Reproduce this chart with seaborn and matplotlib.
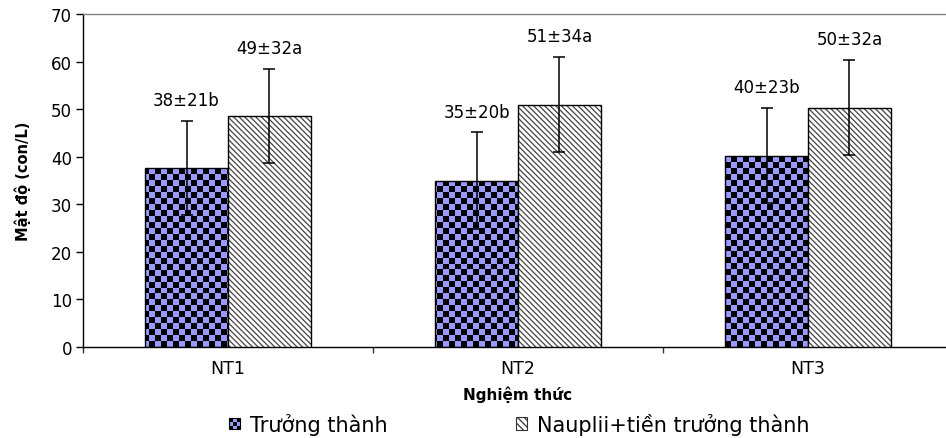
import numpy as np
import pandas as pd
import matplotlib
matplotlib.use("Agg")
import matplotlib.pyplot as plt
import seaborn as sns
from matplotlib.patches import Rectangle, Patch
from matplotlib.legend_handler import HandlerBase
from matplotlib.colors import ListedColormap

# ---------------- data ----------------
categories = ["NT1", "NT2", "NT3"]
series_names = ["Trưởng thành", "Nauplii+tiền trưởng thành"]
adult_mean = [37.6, 35.0, 40.2]
nauplii_mean = [48.6, 50.9, 50.3]
adult_err = [9.9, 10.1, 10.0]
nauplii_err = [9.9, 10.0, 10.0]
adult_labels = ["38±21b", "35±20b", "40±23b"]
nauplii_labels = ["49±32a", "51±34a", "50±32a"]
y_ticks = [0, 10, 20, 30, 40, 50, 60, 70]
x_title = "Nghiệm thức"
y_title = "Mật độ (con/L)"

PURPLE = "#9999FF"
HATCH = "\\" * 6

df = pd.DataFrame({
    "cat": categories * 2,
    "series": [series_names[0]] * 3 + [series_names[1]] * 3,
    "value": adult_mean + nauplii_mean,
})

sns.set_style("white")
plt.rcParams["font.family"] = ["DejaVu Sans"]
plt.rcParams["hatch.linewidth"] = 0.9
for k in ["text.color", "axes.labelcolor", "xtick.color", "ytick.color"]:
    plt.rcParams[k] = "black"

fig = plt.figure(figsize=(9.46, 4.39), dpi=100)
ax = fig.add_axes([83 / 946, 1 - 348 / 439, (953 - 83) / 946, (348 - 15) / 439])

sns.barplot(data=df, x="cat", y="value", hue="series", hue_order=series_names,
            order=categories, palette={series_names[0]: PURPLE, series_names[1]: "white"},
            width=0.572, gap=0, errorbar=None, saturation=1, legend=False,
            edgecolor="black", linewidth=1.0, ax=ax)

ax.set_xlim(-0.5, 2.5)
ax.set_ylim(0, 70)

# checkerboard fill for the first series
nx, ny = 145, 56
checker = (np.add.outer(np.arange(ny), np.arange(nx)) % 2).astype(float)
cmap = ListedColormap([PURPLE, "black"])
for p in ax.containers[0]:
    im = ax.imshow(checker, extent=(-0.5, 2.5, 0, 70), origin="lower", aspect="auto",
                   interpolation="nearest", cmap=cmap, zorder=2)
    im.set_clip_path(p)
    p.set_facecolor("none")
    p.set_zorder(3)

# diagonal hatch for second series (gray hatch, black outline)
for p in ax.containers[1]:
    p.set_facecolor("white")
    p.set_edgecolor("#444444")
    p.set_hatch(HATCH)
    p.set_linewidth(0)
    p.set_zorder(3)
    ax.add_patch(Rectangle((p.get_x(), p.get_y()), p.get_width(), p.get_height(),
                           facecolor="none", edgecolor="black", linewidth=1.0, zorder=3.5))

ax.set_xlim(-0.5, 2.5)
ax.set_ylim(0, 70)

# error bars and labels
for cont, errs, labs in [(ax.containers[0], adult_err, adult_labels),
                         (ax.containers[1], nauplii_err, nauplii_labels)]:
    for p, e, lab in zip(cont, errs, labs):
        xc = p.get_x() + p.get_width() / 2
        h = p.get_height()
        ax.errorbar(xc, h, yerr=e, color="black", elinewidth=1.1, capsize=4,
                    capthick=1.1, zorder=5)
        ax.annotate(lab, xy=(xc, h + e), xytext=(0, 15), textcoords="offset points",
                    ha="center", va="center", fontsize=12, color="black")

# axes styling
ax.set_yticks(y_ticks)
ax.set_yticklabels([str(v) for v in y_ticks], fontsize=12)
ax.set_xticks(range(len(categories)))
ax.set_xticklabels(categories, fontsize=12.5)
ax.set_xticks([-0.5, 0.5, 1.5, 2.5], minor=True)
ax.tick_params(axis="x", which="major", bottom=True, length=0, pad=9)
ax.tick_params(axis="x", which="minor", bottom=True, length=4, width=1,
               direction="out", color="#333333")
ax.tick_params(axis="y", left=True, length=5, width=1, direction="out", pad=3,
               color="black")
ax.set_xlabel(x_title, fontsize=11, fontweight="bold", labelpad=6)
ax.set_ylabel(y_title, fontsize=10.5, fontweight="bold", labelpad=14)
for s in ["left", "bottom"]:
    ax.spines[s].set_color("black")
    ax.spines[s].set_linewidth(1.0)
ax.spines["top"].set_color("#808080")
ax.spines["top"].set_linewidth(1.0)
ax.spines["right"].set_visible(False)
ax.grid(False)


class CheckerHandler(HandlerBase):
    def create_artists(self, legend, orig_handle, xdescent, ydescent, width, height,
                       fontsize, trans):
        side = min(width, height)
        x0 = -xdescent + (width - side) / 2
        y0 = -ydescent + (height - side) / 2
        arts = [Rectangle((x0, y0), side, side, facecolor=PURPLE, edgecolor="none",
                          transform=trans)]
        n = 3
        c = side / n
        for i in range(n):
            for j in range(n):
                if (i + j) % 2 == 0:
                    arts.append(Rectangle((x0 + i * c, y0 + j * c), c, c,
                                          facecolor="black", edgecolor="none", transform=trans))
        arts.append(Rectangle((x0, y0), side, side, facecolor="none", edgecolor="black",
                              lw=0.8, transform=trans))
        return arts


leg_kw = dict(frameon=False, fontsize=15, handlelength=0.55, handleheight=0.55,
              handletextpad=0.45, borderpad=0, borderaxespad=0)
h1 = Patch(facecolor=PURPLE, edgecolor="black")
fig.legend([h1], [series_names[0]], loc="center left",
           bbox_to_anchor=(229 / 946, 1 - 425 / 439),
           handler_map={Patch: CheckerHandler()}, **leg_kw)
h2 = Patch(facecolor="white", edgecolor="#333333", hatch="\\" * 5, lw=0.8)
fig.legend([h2], [series_names[1]], loc="center left",
           bbox_to_anchor=(516 / 946, 1 - 425 / 439), **leg_kw)

fig.savefig("out.png", dpi=100)
